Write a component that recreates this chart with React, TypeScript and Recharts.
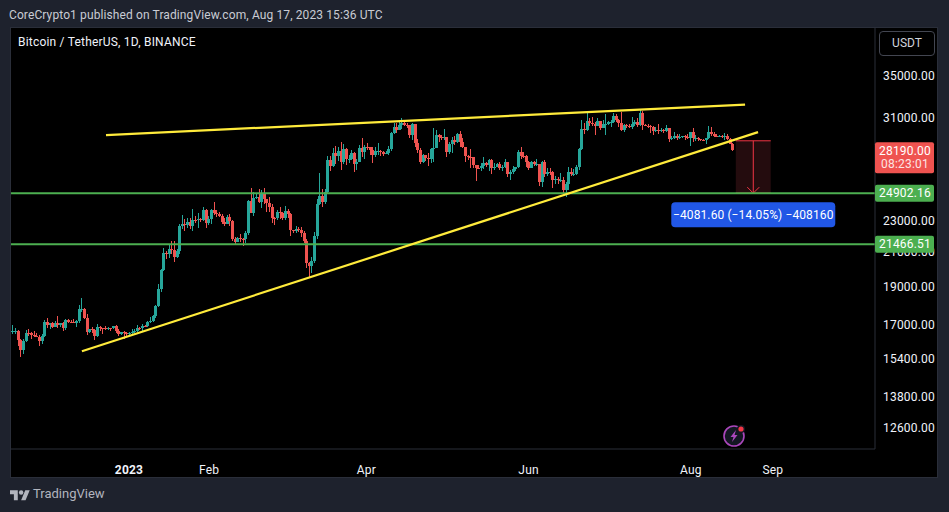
import { ComposedChart, Bar, XAxis, YAxis, ReferenceLine, ReferenceArea } from 'recharts';

// daily candles, 18 Nov 2022 to 17 Aug 2023 (day 0 = 1 Jan 2023)
const firstDay = -44;

const opens = [
  16692, 16700, 16700, 16280, 15781, 16226, 16603, 16599, 16522, 16459, 16428, 16213, 16442,
  17163, 16977, 17092, 16885, 17105, 16967, 17089, 16836, 17224, 17128, 17127, 17085, 17209, 17774, 17803, 17356, 16632, 16776, 16739, 16438, 16895, 16824, 16822, 16778, 16836, 16832, 16919, 16706, 16547, 16633, 16607,
  16542, 16617, 16672, 16675, 16851, 16831, 16950, 16943, 17127, 17180, 17440, 17943, 18846, 19930, 20954, 20871, 21185, 21134, 20677, 21071, 22667, 22783, 22707, 22916, 22632, 23060, 23009, 23074, 23027, 23743, 22827,
  23125, 23732, 23488, 23431, 23327, 22932, 22762, 23240, 22963, 21796, 21626, 21862, 21783, 21773, 22199, 24324, 23517, 24569, 24631, 24271, 24842, 24452, 24182, 23940, 23185, 23157, 23554, 23492,
  23141, 23628, 23465, 22354, 22346, 22430, 22409, 22198, 21705, 20362, 20150, 20455, 21998, 24113, 24670, 24285, 24998, 27395, 26907, 27972, 27717, 28105, 27250, 28295, 27454, 27462, 27968, 27124, 27262, 28348, 28028,
  28465, 28452, 28222, 27790, 28171, 28175, 28038, 27906, 27938, 28323, 29637, 30200, 29884, 30384, 30485, 30318, 30315, 29445, 30397, 28822, 28245, 27262, 27816, 27590, 27511, 28300, 28422, 29473, 29340, 29248,
  29268, 28091, 28680, 29026, 28848, 29531, 28904, 28454, 27694, 27659, 27628, 26988, 26805, 26788, 26917, 27163, 27034, 27405, 26822, 26890, 27102, 26747, 26851, 27225, 26329, 26474, 26720, 26868, 28085, 27745, 27702,
  27219, 26819, 27249, 27069, 27116, 25728, 27230, 26339, 26498, 26477, 25841, 25925, 25901, 25902, 25128, 25589, 26510, 26336, 26340, 26845, 28307, 29994, 29884, 30688, 30527, 30462, 30267, 30692, 30077, 30445,
  30472, 30586, 30617, 31156, 30767, 30508, 29895, 30348, 30292, 30171, 30414, 30620, 30380, 31454, 30312, 30289, 30232, 30144, 29856, 29913, 29792, 29908, 29791, 30083, 29176, 29228, 29354, 29211, 29314, 29352, 29281,
  29232, 29705, 29186, 29193, 29113, 29042, 29041, 29180, 29765, 29561, 29429, 29397, 29415, 29283, 29408, 29170, 28701,
];

const highs = [
  17011, 16820, 16746, 16293, 16315, 16750, 16812, 16666, 16700, 16600, 16484, 16550, 17250,
  17320, 17105, 17158, 17202, 17425, 17107, 17142, 17299, 17300, 17227, 17270, 17241, 18000, 18387, 17850, 17530, 16796, 16875, 16816, 17061, 16918, 16868, 16955, 16869, 16863, 16926, 16972, 16785, 16664, 16677, 16644,
  16628, 16799, 16778, 16991, 16879, 17041, 16981, 17176, 17398, 17500, 18000, 19117, 20000, 21258, 21050, 21474, 21650, 21650, 21194, 22755, 23371, 23078, 23180, 23162, 23816, 23282, 23500, 23185, 23950, 23800, 23320,
  23812, 24255, 23715, 23587, 23433, 23158, 23350, 23452, 23011, 21938, 21906, 22090, 21894, 22320, 24380, 25250, 25021, 24877, 25192, 25121, 25250, 24476, 24599, 24132, 23219, 23689, 23897, 23600,
  24000, 23787, 23476, 22397, 22662, 22602, 22557, 22287, 21818, 20367, 20686, 22271, 24500, 26386, 25196, 25167, 27756, 27725, 28390, 28528, 28439, 28868, 28750, 28374, 27787, 28194, 28032, 27500, 28650, 29184, 28656,
  28803, 28500, 28500, 28444, 28775, 28190, 28100, 28154, 28530, 29770, 30550, 30486, 30595, 31000, 30610, 30549, 30320, 30485, 30412, 29100, 28374, 27882, 27816, 28000, 28399, 30036, 29890, 29572, 29460, 29969,
  29337, 28879, 29266, 29379, 29677, 29858, 29180, 28460, 27835, 28330, 27655, 27055, 27030, 27200, 27663, 27279, 27500, 27485, 27183, 27150, 27266, 27050, 27495, 27225, 26631, 26932, 26895, 28261, 28447, 28044, 27831,
  27350, 27305, 27341, 27455, 27130, 27355, 27399, 26808, 26783, 26530, 26200, 26106, 26433, 26071, 25750, 26839, 26777, 26700, 27040, 28400, 30800, 30500, 31431, 31000, 31046, 30650, 31000, 30700, 30828, 31282,
  30661, 30800, 31380, 31326, 30877, 31500, 30448, 30386, 30452, 31045, 30800, 30985, 31814, 31630, 30390, 30441, 30336, 30233, 30184, 30417, 30045, 29989, 30350, 30099, 29376, 29690, 29580, 29530, 29400, 29450, 29530,
  29739, 30047, 29433, 29333, 29152, 29176, 29244, 30244, 30160, 29700, 29530, 29477, 29450, 29660, 29530, 29250, 28780,
];

const lows = [
  16546, 16550, 15995, 15476, 15621, 16167, 16458, 16331, 16396, 16400, 15995, 16100, 16428,
  16855, 16787, 16865, 16878, 16867, 16906, 16678, 16733, 17070, 17092, 17071, 16871, 17088, 17660, 17275, 16527, 16585, 16625, 16256, 16398, 16721, 16559, 16743, 16755, 16720, 16787, 16592, 16470, 16488, 16333, 16470,
  16499, 16548, 16606, 16655, 16753, 16679, 16908, 16911, 17104, 17148, 17320, 17911, 18714, 19888, 20551, 20611, 20900, 20407, 20659, 20861, 22422, 22292, 22500, 22462, 22300, 22850, 22534, 22878, 23000, 22500, 22714,
  22760, 23363, 23206, 23253, 22745, 22628, 22745, 22665, 21688, 21451, 21599, 21630, 21351, 21532, 22047, 23505, 23339, 24450, 24192, 23840, 24148, 23574, 23608, 22841, 22722, 23059, 23106, 23020,
  23020, 23195, 21971, 22157, 22213, 22258, 21927, 21580, 20042, 19549, 19765, 20365, 21813, 24080, 23896, 24123, 24890, 26578, 26827, 27124, 27370, 26601, 27105, 27000, 27156, 27386, 26508, 26648, 27240, 27668, 27525,
  28220, 27831, 27200, 27661, 27805, 27705, 27767, 27859, 27800, 28170, 29590, 29637, 29871, 29966, 30231, 30120, 29240, 29086, 28500, 28010, 27125, 27140, 27311, 26942, 27192, 27235, 28378, 28850, 29088, 29080,
  27666, 27872, 27964, 28667, 28800, 28427, 28397, 27273, 27375, 26777, 26777, 25811, 26700, 26562, 26726, 26852, 26555, 26361, 26631, 26825, 26601, 26538, 26824, 26080, 25871, 26342, 26551, 26770, 27524, 27554, 26841,
  26605, 26777, 26920, 26950, 25388, 25351, 26107, 26206, 26269, 25300, 25602, 25602, 25715, 24820, 24650, 25160, 26182, 26180, 26256, 26668, 28257, 29525, 29800, 30270, 30250, 29500, 30226, 29885, 30037, 29500,
  30320, 30175, 30561, 30635, 30201, 29850, 29700, 30036, 30057, 29950, 30260, 30200, 30250, 29900, 30250, 30070, 29659, 29500, 29768, 29564, 29730, 29640, 29730, 28861, 29047, 29093, 29069, 29125, 29256, 29033, 29101,
  28585, 28920, 28947, 28934, 28981, 28968, 28701, 29113, 29351, 29320, 29330, 29350, 29250, 29080, 29050, 28700, 28100,
];

const closes = [
  16700, 16700, 16280, 15781, 16226, 16603, 16599, 16522, 16459, 16428, 16213, 16442, 17163,
  16977, 17092, 16885, 17105, 16967, 17089, 16836, 17224, 17128, 17127, 17085, 17209, 17774, 17803, 17356, 16632, 16776, 16739, 16438, 16895, 16824, 16822, 16778, 16836, 16832, 16919, 16706, 16547, 16633, 16607, 16542,
  16616, 16672, 16675, 16851, 16831, 16950, 16943, 17127, 17178, 17440, 17943, 18846, 19930, 20954, 20871, 21185, 21134, 20677, 21071, 22667, 22783, 22707, 22916, 22632, 23060, 23009, 23074, 23027, 23743, 22826, 23125,
  23732, 23488, 23431, 23327, 22932, 22762, 23240, 22963, 21796, 21625, 21862, 21783, 21773, 22199, 24324, 23517, 24569, 24631, 24271, 24842, 24452, 24182, 23940, 23185, 23157, 23554, 23492, 23141,
  23628, 23465, 22354, 22346, 22430, 22409, 22197, 21705, 20362, 20150, 20455, 21997, 24113, 24670, 24285, 24998, 27395, 26907, 27972, 27717, 28105, 27250, 28295, 27454, 27462, 27968, 27124, 27262, 28348, 28028, 28465,
  28452, 28222, 27790, 28171, 28175, 28038, 27906, 27938, 28323, 29637, 30200, 29884, 30384, 30485, 30318, 30315, 29445, 30397, 28822, 28245, 27262, 27816, 27590, 27511, 28300, 28422, 29473, 29340, 29248, 29268,
  28091, 28680, 29026, 28848, 29531, 28904, 28454, 27694, 27659, 27628, 26988, 26805, 26788, 26917, 27163, 27034, 27405, 26822, 26890, 27102, 26747, 26851, 27225, 26329, 26474, 26720, 26868, 28085, 27745, 27702, 27219,
  26819, 27249, 27069, 27116, 25728, 27230, 26339, 26498, 26477, 25841, 25925, 25901, 25902, 25128, 25589, 26510, 26336, 26340, 26845, 28307, 29994, 29884, 30688, 30527, 30462, 30267, 30692, 30077, 30445, 30472,
  30586, 30617, 31156, 30767, 30508, 29895, 30348, 30292, 30171, 30414, 30620, 30380, 31454, 30312, 30289, 30232, 30144, 29856, 29913, 29792, 29908, 29791, 30083, 29176, 29228, 29354, 29211, 29314, 29352, 29281, 29232,
  29705, 29186, 29193, 29113, 29042, 29041, 29180, 29765, 29561, 29429, 29397, 29415, 29283, 29408, 29170, 28701, 28190,
];

const priceTicks = [35000, 31000, 23000, 21000, 19000, 17000, 15400, 13800, 12600];
const timeTicks = [0, 30.3, 89.7, 151, 212.3, 243.3];
const timeLabels = ['2023', 'Feb', 'Apr', 'Jun', 'Aug', 'Sep'];
const priceDomain = [11860, 40195];
const dayDomain = [-44.6, 281.9];

const upColor = '#26a69a';
const downColor = '#ef5350';
const yellow = '#ffeb3b';
const green = '#4caf50';
const font = 'Roboto, sans-serif';

const chartData = closes.map((close, i) => ({
  day: firstDay + i,
  open: opens[i],
  high: highs[i],
  low: lows[i],
  close,
  range: [lows[i], highs[i]],
}));

function Candle(props: any) {
  const { x, y, width, height, payload } = props;
  const { open, high, low, close } = payload;
  const color = close >= open ? upColor : downColor;
  const cx = Math.round(x + width / 2);
  const logSpan = Math.log(high / low) || 1;
  const top = y + (height * Math.log(high / Math.max(open, close))) / logSpan;
  const bottom = y + (height * Math.log(high / Math.min(open, close))) / logSpan;
  return (
    <g shapeRendering="crispEdges">
      <rect x={cx} y={y} width={1} height={height} fill={color} />
      <rect x={cx - 1} y={top} width={3} height={Math.max(bottom - top, 1)} fill={color} />
    </g>
  );
}

function TimeTick({ x, y, payload }: any) {
  const i = timeTicks.indexOf(payload.value);
  return (
    <text x={x} y={y + 17} textAnchor="middle" fontFamily={font} fontSize={12} fontWeight={i === 0 ? 700 : 400} letterSpacing={0.2} fill="#f0f3fa">
      {timeLabels[i]}
    </text>
  );
}

function PriceTag({ viewBox, text, fill }: any) {
  const cy = viewBox.y;
  return (
    <g>
      <rect x={875} y={cy - 8.5} width={59} height={17} rx={2} fill={fill} />
      <text x={905} y={cy + 4} textAnchor="middle" fontFamily={font} fontSize={12} letterSpacing={0.2} fill="#fff">{text}</text>
    </g>
  );
}

function LastPriceTag({ viewBox, text, timer }: any) {
  const cy = viewBox.y;
  return (
    <g>
      <rect x={875} y={cy - 8} width={59} height={31} rx={2} fill={downColor} />
      <text x={905} y={cy + 5} textAnchor="middle" fontFamily={font} fontSize={12} letterSpacing={0.2} fill="#fff">{text}</text>
      <text x={905} y={cy + 18} textAnchor="middle" fontFamily={font} fontSize={12} letterSpacing={0.2} fill="#fde4e3">{timer}</text>
    </g>
  );
}

function MeasureBox({ x, y, width, height }: any) {
  const mid = x + width / 2;
  const end = y + height;
  return (
    <g>
      <rect x={x} y={y} width={width} height={height} fill="#240c0e" />
      <line x1={x} x2={x + width} y1={y} y2={y} stroke="#f23645" />
      <line x1={x} x2={x + width} y1={end} y2={end} stroke="#f23645" />
      <line x1={mid} x2={mid} y1={y} y2={end} stroke="#f23645" />
      <path d={`M${mid - 6} ${end - 6} L${mid} ${end} L${mid + 6} ${end - 6}`} fill="none" stroke="#f23645" />
      <rect x={mid - 82} y={end + 9} width={164} height={25} rx={4} fill="#2157e6" />
      <text x={mid} y={end + 26} textAnchor="middle" fontFamily={font} fontSize={12} letterSpacing={0.1} fill="#fff">
        −4081.60 (−14.05%) −408160
      </text>
    </g>
  );
}

export default function App() {
  return (
    <div style={{ position: 'absolute', left: 0, top: 0, width: 949, height: 512, background: '#1e222d', overflow: 'hidden', fontFamily: font }}>
      <div style={{ position: 'absolute', left: 9, top: 7, fontSize: 12, lineHeight: '16px', letterSpacing: 0.11, color: '#c9ccd4', whiteSpace: 'nowrap' }}>
        CoreCrypto1 published on TradingView.com, Aug 17, 2023 15:36 UTC
      </div>
      <div style={{ position: 'absolute', left: 10, top: 27, width: 926, height: 449, background: '#000', border: '1px solid #2a2e39' }} />
      <div style={{ position: 'absolute', left: 0, top: 0 }}>
        <ComposedChart
          width={949}
          height={512}
          data={chartData}
          margin={{ top: 28, right: 12, bottom: 35, left: 11 }}
        >
          <XAxis
            type="number"
            dataKey="day"
            domain={dayDomain}
            ticks={timeTicks}
            tick={<TimeTick />}
            tickLine={false}
            axisLine={{ stroke: '#2a2e39' }}
            height={28}
            allowDataOverflow
            interval={0}
          />
          <YAxis
            orientation="right"
            scale="log"
            domain={priceDomain}
            ticks={priceTicks}
            tickFormatter={(v: number) => v.toFixed(2)}
            tick={{ fontFamily: font, fontSize: 12, fill: '#f0f3fa', letterSpacing: 0.2 }}
            tickLine={false}
            axisLine={{ stroke: '#2a2e39' }}
            width={62}
            allowDataOverflow
            interval={0}
          />
          <ReferenceArea x1={229.3} x2={242.5} y1={24902.16} y2={28983.76} shape={<MeasureBox />} ifOverflow="visible" />
          <Bar dataKey="range" barSize={3} shape={<Candle />} isAnimationActive={false} />
          <ReferenceLine y={24902.16} stroke={green} strokeWidth={2} />
          <ReferenceLine y={21466.51} stroke={green} strokeWidth={2} />
          <ReferenceLine segment={[{ x: -8.7, y: 29467 }, { x: 232.8, y: 32190 }]} stroke={yellow} strokeWidth={2.2} />
          <ReferenceLine segment={[{ x: -17.8, y: 15748 }, { x: 237.7, y: 29724 }]} stroke={yellow} strokeWidth={2.2} />
        </ComposedChart>
      </div>
      {/* price tags sit over the axis labels, so they get their own chart on top */}
      <div style={{ position: 'absolute', left: 0, top: 0 }}>
        <ComposedChart
          width={949}
          height={512}
          data={chartData}
          margin={{ top: 28, right: 74, bottom: 63, left: 11 }}
        >
          <XAxis type="number" dataKey="day" domain={dayDomain} hide allowDataOverflow />
          <YAxis scale="log" domain={priceDomain} hide allowDataOverflow />
          <ReferenceLine y={24902.16} stroke="none" label={<PriceTag text="24902.16" fill={green} />} />
          <ReferenceLine y={21466.51} stroke="none" label={<PriceTag text="21466.51" fill={green} />} />
          <ReferenceLine y={28190} stroke="none" label={<LastPriceTag text="28190.00" timer="08:23:01" />} />
        </ComposedChart>
      </div>
      <div style={{ position: 'absolute', left: 18, top: 34, fontSize: 12, lineHeight: '16px', letterSpacing: 0.2, color: '#f0f3fa', whiteSpace: 'nowrap' }}>
        Bitcoin / TetherUS, 1D, BINANCE
      </div>
      <div style={{ position: 'absolute', left: 879, top: 31, width: 54, height: 23, border: '1px solid #434651', borderRadius: 4, fontSize: 12, lineHeight: '23px', textAlign: 'center', color: '#d1d4dc', background: '#000' }}>
        USDT
      </div>
      <svg style={{ position: 'absolute', left: 722, top: 424 }} width={24} height={24} viewBox="0 0 24 24">
        <circle cx={12} cy={12} r={10} fill="#131722" stroke="#ab47bc" strokeWidth={1.6} />
        <path d="M14 6 L8.5 13 H11.5 L10 18 L15.5 11 H12.5 Z" fill="#ab47bc" />
        <circle cx={19} cy={5} r={4} fill="#131722" />
        <circle cx={19} cy={5} r={2.6} fill="#f23645" />
      </svg>
      <svg style={{ position: 'absolute', left: 10, top: 488 }} width={20} height={14} viewBox="0 0 36 25">
        <path d="M14 22H7V11H0V4h14v18zM28 22h-8l7.5-18h8L28 22z" fill="#b2b5be" />
        <circle cx={20} cy={8} r={4} fill="#b2b5be" />
      </svg>
      <div style={{ position: 'absolute', left: 33, top: 486, fontSize: 13, lineHeight: '16px', color: '#b2b5be', whiteSpace: 'nowrap' }}>
        TradingView
      </div>
    </div>
  );
}
